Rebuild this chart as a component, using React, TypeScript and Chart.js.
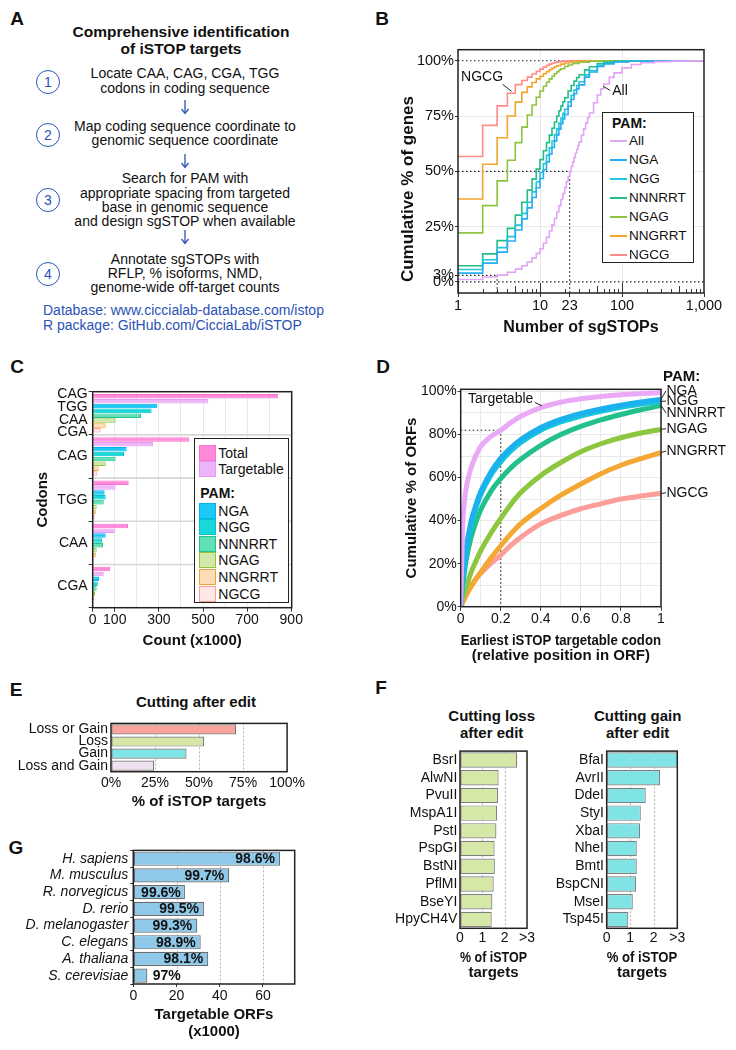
import React, { useEffect, useRef } from 'react';
import { Chart, registerables } from 'chart.js';

Chart.register(...registerables);

const FONT = "'Liberation Sans', Arial, Helvetica, sans-serif";
Chart.defaults.font.family = FONT;
Chart.defaults.font.size = 14;
Chart.defaults.color = '#111';

const INK = '#111';
const FRAME = '#222';
const GRID = '#e9e9e9';
const CLEAR = 'rgba(0,0,0,0)';
const BLUE_TEXT = '#2b52b5';

// ---------------- Panel B data (cumulative % of genes vs number of sgSTOPs) ----------------
const B_X_TICKS = [1, 10, 23, 100, 1000];
const B_X_GRID = [10, 100];
const B_Y_TICKS = [0, 3, 25, 50, 75, 100];
const B_Y_GRID = [25, 50, 75];
const B_MEDIAN = [23, 50];
const B_LOW = [3, 3];
const B_NOTE_NGCG = [4.5, 86.2];
const B_NOTE_ALL = [59, 88.4];
const B_Y_TITLE_AT = 42; // % level at which the y title is centred
const B_SERIES_NAMES = ['All', 'NGA', 'NGG', 'NNNRRT', 'NGAG', 'NNGRRT', 'NGCG'];
const B_COLORS = ['#E2A4F4', '#2AADF0', '#21C6DC', '#1FBF86', '#8DC43F', '#F2A52C', '#FF8B86'];
const B_ALL = [[1, 1.1], [2, 2.2], [3, 3.1], [4, 4.4], [5, 5.8], [6, 7.3], [7, 9], [8, 10.9], [9, 12.9], [10, 15], [11, 17.5], [12, 20.2], [13, 23], [14, 25.8], [15, 28.7], [16, 31.6], [17, 34.5], [18, 37.3], [19, 40], [20, 42.7], [21, 45.3], [22, 47.7], [23, 50], [24, 52.2], [25, 54.3], [26, 56.3], [27, 58.2], [28, 60], [29, 61.7], [30, 63.3], [32, 66.3], [34, 69.2], [36, 71.8], [38, 74.2], [40, 76.4], [45, 81], [50, 84.5], [55, 87.3], [60, 89.5], [70, 92.5], [80, 94.5], [100, 96.8], [130, 98.3], [170, 99.1], [250, 99.6], [400, 99.85], [700, 99.95], [1000, 100]];
const B_NGA = [[1, 4], [2, 8.5], [3, 13.5], [4, 18.5], [5, 23.5], [6, 28.5], [7, 33.5], [8, 38.2], [9, 42.6], [10, 46.8], [11, 50.7], [12, 54.3], [13, 57.7], [14, 60.8], [15, 63.8], [16, 66.5], [17, 69.1], [18, 71.5], [19, 73.7], [20, 75.7], [22, 79.4], [24, 82.5], [26, 85.1], [28, 87.3], [30, 89.1], [35, 92.6], [40, 94.9], [50, 97.4], [60, 98.6], [80, 99.5], [120, 99.9], [200, 100], [1000, 100]];
const B_NGG = [[1, 5.6], [2, 10], [3, 15.5], [4, 20.5], [5, 25.7], [6, 31], [7, 36], [8, 40.7], [9, 45.2], [10, 49.5], [11, 53.5], [12, 57.2], [13, 60.6], [14, 63.7], [15, 66.6], [16, 69.3], [17, 71.8], [18, 74.1], [19, 76.2], [20, 78.1], [22, 81.5], [24, 84.4], [26, 86.8], [28, 88.8], [30, 90.5], [35, 93.6], [40, 95.6], [50, 97.9], [60, 98.9], [80, 99.6], [120, 99.9], [200, 100], [1000, 100]];
const B_NNNRRT = [[1, 7.3], [2, 12.7], [3, 18.7], [4, 24.2], [5, 30.2], [6, 36], [7, 41.5], [8, 46.5], [9, 51], [10, 55.3], [11, 59.3], [12, 63], [13, 66.4], [14, 69.5], [15, 72.3], [16, 75], [17, 77.4], [18, 79.5], [19, 81.5], [20, 83.3], [22, 86.3], [24, 88.8], [26, 90.8], [28, 92.4], [30, 93.7], [35, 95.9], [40, 97.3], [50, 98.7], [60, 99.4], [80, 99.8], [120, 100], [1000, 100]];
const B_NGAG = [[1, 22.2], [2, 34.5], [3, 45.7], [4, 55], [5, 63], [6, 70], [7, 75.5], [8, 80], [9, 83.5], [10, 86.3], [11, 88.5], [12, 90.3], [13, 91.8], [14, 93], [15, 94.1], [16, 95], [17, 95.8], [18, 96.4], [20, 97.4], [22, 98.1], [25, 98.8], [30, 99.4], [40, 99.8], [55, 100], [1000, 100]];
const B_NNGRRT = [[1, 37.5], [2, 53.2], [3, 65.2], [4, 75], [5, 81.3], [6, 85.7], [7, 88.2], [8, 90.2], [9, 91.8], [10, 93], [11, 94.1], [12, 95.1], [13, 96], [14, 96.7], [15, 97.3], [16, 97.8], [18, 98.5], [20, 99], [23, 99.5], [28, 99.8], [35, 100], [1000, 100]];
const B_NGCG = [[1, 56.7], [2, 70.8], [3, 79.6], [4, 85.3], [5, 89.2], [6, 91.1], [7, 92.6], [8, 94], [9, 95.2], [10, 96.2], [11, 97.1], [12, 97.9], [13, 98.5], [14, 98.9], [15, 99.2], [16, 99.5], [18, 99.7], [20, 99.85], [25, 100], [1000, 100]];
const B_POINTS = [B_ALL, B_NGA, B_NGG, B_NNNRRT, B_NGAG, B_NNGRRT, B_NGCG];

// ---------------- Panel C data (codon counts, x1000) ----------------
const C_CATEGORIES: any[] = [['CAG', 'TGG', 'CAA', 'CGA'], 'CAG', 'TGG', 'CAA', 'CGA'];
const C_SERIES_NAMES = ['Total', 'Targetable', 'NGA', 'NGG', 'NNNRRT', 'NGAG', 'NNGRRT', 'NGCG'];
const C_TOTAL = [841, 438, 163, 160, 79];
const C_TARGETABLE = [524, 273, 104, 100, 50];
const C_NGA = [293, 154, 54, 59, 29];
const C_NGG = [267, 142, 59, 42, 23];
const C_NNNRRT = [219, 104, 50, 47, 18];
const C_NGAG = [104, 59, 18, 18, 11];
const C_NNGRRT = [59, 27, 14, 14, 6];
const C_NGCG = [36, 21, 9, 5, 3];
const C_VALUES = [C_TOTAL, C_TARGETABLE, C_NGA, C_NGG, C_NNNRRT, C_NGAG, C_NNGRRT, C_NGCG];
const C_FILLS = ['#FF8ADA', '#EDB5F8', '#1CC8F6', '#19D8DA', '#62E1B6', '#D3E7A9', '#FADDB7', '#FDE7E7'];
const C_BORDERS = ['#FF6FCE', '#E39BF5', '#00B5EE', '#00C6CC', '#22C48B', '#8CC43D', '#F2A234', '#FF9C98'];
const C_X_TICKS = [0, 100, 200, 300, 400, 500, 600, 700, 800, 900];
const C_X_LABELS = [0, 100, 300, 500, 700, 900];

// ---------------- Panel D data (cumulative % of ORFs vs earliest targetable position) ----------------
const D_X = [0, 0.01, 0.02, 0.03, 0.05, 0.075, 0.1, 0.15, 0.2, 0.25, 0.3, 0.4, 0.5, 0.6, 0.7, 0.8, 0.9, 1];
const D_TARGETABLE = [0, 38, 50, 56.5, 64, 70, 74.5, 79, 82, 85.5, 88.5, 92.5, 95, 96.6, 97.7, 98.5, 99, 99.4];
const D_NGA = [0, 13, 22, 29, 39, 47, 53.5, 62.5, 69, 73.8, 77.7, 83.3, 87, 89.8, 91.9, 93.6, 95.1, 96.4];
const D_NGG = [0, 12, 20.5, 27.5, 37.5, 45.5, 52, 61, 67.3, 72.3, 76.3, 82, 85.8, 88.6, 90.8, 92.6, 94.1, 95.4];
const D_NNNRRT = [0, 10, 17, 23, 31.5, 39, 45, 53.5, 59.5, 64.5, 68.5, 75, 80, 83.8, 86.8, 89.3, 91.5, 93.5];
const D_NGAG = [0, 3.8, 7, 10, 15.5, 21, 26, 34, 41, 47.5, 53, 61, 67, 72, 75.7, 78.5, 80.7, 82.4];
const D_NNGRRT = [0, 2, 4, 5.8, 9, 12.7, 16, 22.5, 28.3, 33.8, 38.6, 45.6, 51.8, 57, 61.8, 65.7, 68.8, 71.6];
const D_NGCG = [0, 2.3, 4.3, 6.2, 9.5, 12.8, 15.5, 20, 24, 28.5, 32.3, 38.5, 42.4, 45.5, 47.8, 50, 51.4, 52.6];
const D_SERIES_NAMES = ['Targetable', 'NGA', 'NGG', 'NNNRRT', 'NGAG', 'NNGRRT', 'NGCG'];
const D_VALUES = [D_TARGETABLE, D_NGA, D_NGG, D_NNNRRT, D_NGAG, D_NNGRRT, D_NGCG];
const D_COLORS = ['#EAA9F7', '#1AB1EE', '#18C3DD', '#22C08C', '#8DC63F', '#F3A833', '#FB9E9A'];
const D_LABEL_Y = [100.3, 95.5, 90, 82.7, 72.3, 52.9];
const D_PAM_Y = 107;
const D_GUIDE = [0.2, 82];
const D_NOTE_TARGETABLE = [0.405, 93.3];
const D_X_TICKS = [0, 0.1, 0.2, 0.3, 0.4, 0.5, 0.6, 0.7, 0.8, 0.9, 1];
const D_X_LABELS = [0, 0.2, 0.4, 0.6, 0.8, 1];
const D_Y_TICKS = [0, 10, 20, 30, 40, 50, 60, 70, 80, 90, 100];
const D_Y_LABELS = [0, 20, 40, 60, 80, 100];

// ---------------- Panel E data ----------------
const E_CATEGORIES = ['Loss or Gain', 'Loss', 'Gain', 'Loss and Gain'];
const E_VALUES = [71.1, 52.8, 42.9, 24.5];
const E_COLORS = ['#FAA29C', '#D6E6A7', '#7FE4E6', '#EFE1F0'];
const E_X_TICKS = [0, 25, 50, 75, 100];
const E_DOTTED = [25, 50, 75];

// ---------------- Panel F data ----------------
const F_LOSS_ENZYMES = ['BsrI', 'AlwNI', 'PvuII', 'MspA1I', 'PstI', 'PspGI', 'BstNI', 'PflMI', 'BseYI', 'HpyCH4V'];
const F_LOSS_VALUES = [2.56, 1.73, 1.7, 1.66, 1.63, 1.55, 1.56, 1.51, 1.45, 1.42];
const F_GAIN_ENZYMES = ['BfaI', 'AvrII', 'DdeI', 'StyI', 'XbaI', 'NheI', 'BmtI', 'BspCNI', 'MseI', 'Tsp45I'];
const F_GAIN_VALUES = [3.3, 2.27, 1.66, 1.45, 1.42, 1.28, 1.28, 1.25, 1.11, 0.92];
const F_X_TICKS = [0, 1, 2, 3];
const F_DOTTED = [1, 2];

// ---------------- Panel G data ----------------
const G_SPECIES = ['H. sapiens', 'M. musculus', 'R. norvegicus', 'D. rerio', 'D. melanogaster', 'C. elegans', 'A. thaliana', 'S. cerevisiae'];
const G_ORFS = [67.9, 44.4, 23.9, 32.7, 29.6, 31.2, 34.7, 6.5];
const G_PCT = ['98.6%', '99.7%', '99.6%', '99.5%', '99.3%', '98.9%', '98.1%', '97%'];
const G_X_TICKS = [0, 20, 40, 60];
const G_DOTTED = [20, 40, 60];
const G_LABEL_MIN_X = 24.3;

// ---------------- helpers ----------------
const fixWidth = (w: number) => (s: any) => { s.width = w; };
const fixHeight = (h: number) => (s: any) => { s.height = h; };
const setTicks = (vals: number[]) => (s: any) => { s.ticks = vals.map((v) => ({ value: v })); };
const near = (list: number[], v: number) => list.some((l) => Math.abs(l - v) < 1e-9);

function framePlugin(lw = 1.5) {
  return {
    id: 'frame',
    afterDraw(chart: any) {
      const { ctx, chartArea: a } = chart;
      ctx.save();
      ctx.strokeStyle = FRAME;
      ctx.lineWidth = lw;
      ctx.setLineDash([]);
      ctx.strokeRect(a.left, a.top, a.right - a.left, a.bottom - a.top);
      ctx.restore();
    },
  };
}

function dottedPlugin(values: number[], color = '#b5b5b5') {
  return {
    id: 'dottedV',
    beforeDatasetsDraw(chart: any) {
      const { ctx, chartArea: a, scales } = chart;
      ctx.save();
      ctx.strokeStyle = color;
      ctx.lineWidth = 1;
      ctx.setLineDash([2, 2]);
      values.forEach((v) => {
        const px = Math.round(scales.x.getPixelForValue(v)) + 0.5;
        ctx.beginPath();
        ctx.moveTo(px, a.top);
        ctx.lineTo(px, a.bottom);
        ctx.stroke();
      });
      ctx.restore();
    },
  };
}

const baseOptions = (padding: any) => ({
  responsive: false,
  maintainAspectRatio: false,
  animation: false,
  devicePixelRatio: 1,
  events: [],
  layout: { padding, autoPadding: false },
  plugins: { legend: { display: false }, tooltip: { enabled: false }, title: { display: false } },
});

// ---------------- Panel B config ----------------
const bGuides = {
  id: 'bGuides',
  beforeDatasetsDraw(chart: any) {
    const { ctx, chartArea: a, scales } = chart;
    const { x, y } = scales;
    const seg = (x1: number, y1: number, x2: number, y2: number) => {
      ctx.beginPath();
      ctx.moveTo(x1, y1);
      ctx.lineTo(x2, y2);
      ctx.stroke();
    };
    ctx.save();
    ctx.strokeStyle = '#333';
    ctx.lineWidth = 1;
    [1, 10, 100].forEach((d) => {
      for (let k = 1; k <= 9; k++) {
        const px = Math.round(x.getPixelForValue(k * d)) + 0.5;
        const len = k === 1 ? 10 : k === 5 ? 7 : 4;
        seg(px, a.bottom, px, a.bottom - len);
      }
    });
    ctx.strokeStyle = '#222';
    ctx.lineWidth = 1.2;
    ctx.setLineDash([1.5, 2.5]);
    const y100 = y.getPixelForValue(100);
    const y0 = y.getPixelForValue(0);
    seg(a.left, y100, a.right, y100);
    seg(a.left, y0, a.right, y0);
    const mx = x.getPixelForValue(B_MEDIAN[0]);
    const my = y.getPixelForValue(B_MEDIAN[1]);
    seg(a.left, my, mx, my);
    seg(mx, my, mx, a.bottom);
    const lx = x.getPixelForValue(B_LOW[0]);
    const ly = y.getPixelForValue(B_LOW[1]);
    seg(a.left, ly, lx, ly);
    seg(lx, ly, lx, a.bottom);
    ctx.restore();
  },
};

const bNotes = {
  id: 'bNotes',
  afterDraw(chart: any) {
    const { ctx, scales } = chart;
    const { x, y } = scales;
    ctx.save();
    ctx.strokeStyle = '#222';
    ctx.lineWidth = 1;
    ctx.fillStyle = INK;
    ctx.font = `14px ${FONT}`;
    ctx.textBaseline = 'middle';
    let ax = x.getPixelForValue(B_NOTE_NGCG[0]);
    let ay = y.getPixelForValue(B_NOTE_NGCG[1]);
    ctx.beginPath();
    ctx.moveTo(ax, ay);
    ctx.lineTo(ax - 9, ay - 7);
    ctx.stroke();
    ctx.textAlign = 'right';
    ctx.fillText('NGCG', ax - 8.5, ay - 14);
    ax = x.getPixelForValue(B_NOTE_ALL[0]);
    ay = y.getPixelForValue(B_NOTE_ALL[1]);
    ctx.beginPath();
    ctx.moveTo(ax, ay);
    ctx.lineTo(ax + 7, ay + 4);
    ctx.stroke();
    ctx.textAlign = 'left';
    ctx.fillText('All', ax + 9, ay + 5);
    // y axis title, rotated
    ctx.translate(y.left + 18, y.getPixelForValue(B_Y_TITLE_AT));
    ctx.rotate(-Math.PI / 2);
    ctx.textAlign = 'center';
    ctx.font = `bold 17px ${FONT}`;
    ctx.fillText('Cumulative % of genes', 0, 0);
    ctx.restore();
  },
};

function makeB() {
  return {
    type: 'line',
    data: {
      datasets: B_POINTS.map((pts, i) => ({
        label: B_SERIES_NAMES[i],
        data: pts.map(([vx, vy]) => ({ x: vx, y: vy })),
        borderColor: B_COLORS[i],
        borderWidth: 1.6,
        pointRadius: 0,
        stepped: 'before',
        fill: false,
      })),
    },
    options: {
      ...baseOptions({ top: 8, right: 32, left: 0, bottom: 0 }),
      scales: {
        x: {
          type: 'logarithmic',
          min: 1,
          max: 1000,
          afterBuildTicks: setTicks(B_X_TICKS),
          afterFit: fixHeight(47),
          ticks: { callback: (v: number) => (v === 1000 ? '1,000' : String(v)), maxRotation: 0, minRotation: 0, autoSkip: false, padding: 0, color: INK, font: { size: 14.5 } },
          grid: { color: (c: any) => (B_X_GRID.includes(c.tick?.value) ? GRID : CLEAR), tickColor: '#333', tickLength: 4 },
          border: { display: false },
          title: { display: true, text: 'Number of sgSTOPs', color: INK, font: { size: 16, weight: 'bold' }, padding: { top: 0, bottom: 3 } },
        },
        y: {
          type: 'linear',
          min: -5,
          max: 105,
          afterBuildTicks: setTicks(B_Y_TICKS),
          afterFit: fixWidth(68),
          ticks: { callback: (v: number) => `${v}%`, autoSkip: false, padding: 1, color: INK, font: { size: 14.5 } },
          grid: { color: (c: any) => (B_Y_GRID.includes(c.tick?.value) ? GRID : CLEAR), tickColor: '#333', tickLength: 3 },
          border: { display: false },
        },
      },
    },
    plugins: [bGuides, framePlugin(), bNotes],
  };
}

// ---------------- Panel C config ----------------
const cSeparators = {
  id: 'cSep',
  beforeDatasetsDraw(chart: any) {
    const { ctx, chartArea: a, scales } = chart;
    const y = scales.y;
    ctx.save();
    ctx.strokeStyle = '#d6d6d6';
    ctx.lineWidth = 1.6;
    for (let i = 0; i < C_CATEGORIES.length - 1; i++) {
      const py = (y.getPixelForValue(i) + y.getPixelForValue(i + 1)) / 2;
      ctx.beginPath();
      ctx.moveTo(a.left, py);
      ctx.lineTo(a.right, py);
      ctx.stroke();
    }
    ctx.restore();
  },
};

function makeC() {
  return {
    type: 'bar',
    data: {
      labels: C_CATEGORIES,
      datasets: C_VALUES.map((vals, i) => ({
        label: C_SERIES_NAMES[i],
        data: vals,
        backgroundColor: C_FILLS[i],
        borderColor: C_BORDERS[i],
        borderWidth: 1,
        borderSkipped: false,
        categoryPercentage: 0.9,
        barPercentage: 0.93,
      })),
    },
    options: {
      ...baseOptions({ top: 11.7, right: 13.3, left: 0, bottom: 0 }),
      indexAxis: 'y',
      scales: {
        x: {
          type: 'linear',
          min: 0,
          max: 902,
          afterBuildTicks: setTicks(C_X_TICKS),
          afterFit: fixHeight(44.3),
          ticks: { callback: (v: number) => (C_X_LABELS.includes(v) ? String(v) : ''), maxRotation: 0, autoSkip: false, padding: 0, color: INK },
          grid: { color: GRID, tickColor: (c: any) => (C_X_LABELS.includes(c.tick?.value) ? '#333' : CLEAR), tickLength: 4 },
          border: { display: false },
          title: { display: true, text: 'Count (x1000)', color: INK, font: { size: 15, weight: 'bold' }, padding: { top: 0, bottom: 2.3 } },
        },
        y: {
          type: 'category',
          afterFit: fixWidth(72.7),
          ticks: { color: INK, padding: 1, autoSkip: false, font: { size: 14, lineHeight: 0.92 } },
          grid: { drawOnChartArea: false, tickColor: '#333', tickLength: 4 },
          border: { display: false },
          title: { display: true, text: 'Codons', color: INK, font: { size: 15, weight: 'bold' }, padding: { top: 14, bottom: 0 } },
        },
      },
    },
    plugins: [cSeparators, framePlugin()],
  };
}

// ---------------- Panel D config ----------------
const dGuides = {
  id: 'dGuides',
  beforeDatasetsDraw(chart: any) {
    const { ctx, chartArea: a, scales } = chart;
    const gx = scales.x.getPixelForValue(D_GUIDE[0]);
    const gy = scales.y.getPixelForValue(D_GUIDE[1]);
    ctx.save();
    ctx.strokeStyle = '#222';
    ctx.lineWidth = 1.1;
    ctx.setLineDash([1.5, 2.5]);
    ctx.beginPath();
    ctx.moveTo(a.left, gy);
    ctx.lineTo(gx, gy);
    ctx.lineTo(gx, a.bottom);
    ctx.stroke();
    ctx.restore();
  },
};

const dNotes = {
  id: 'dNotes',
  afterDraw(chart: any) {
    const { ctx, chartArea: a, scales } = chart;
    const { x, y } = scales;
    ctx.save();
    ctx.fillStyle = INK;
    ctx.strokeStyle = '#222';
    ctx.lineWidth = 1;
    ctx.textBaseline = 'middle';
    const ax = x.getPixelForValue(D_NOTE_TARGETABLE[0]);
    const ay = y.getPixelForValue(D_NOTE_TARGETABLE[1]);
    ctx.beginPath();
    ctx.moveTo(ax, ay);
    ctx.lineTo(ax - 7, ay - 3.5);
    ctx.stroke();
    ctx.font = `14px ${FONT}`;
    ctx.textAlign = 'right';
    ctx.fillText('Targetable', ax - 8.5, ay - 7);
    ctx.textAlign = 'left';
    ctx.font = `bold 15px ${FONT}`;
    ctx.fillText('PAM:', a.right + 2, y.getPixelForValue(D_PAM_Y));
    ctx.font = `14px ${FONT}`;
    D_VALUES.slice(1).forEach((vals, i) => {
      const endY = y.getPixelForValue(vals[vals.length - 1]);
      const ly = y.getPixelForValue(D_LABEL_Y[i]);
      ctx.beginPath();
      ctx.moveTo(a.right, endY);
      ctx.lineTo(a.right + 5, ly);
      ctx.stroke();
      ctx.fillText(D_SERIES_NAMES[i + 1], a.right + 5.5, ly);
    });
    ctx.restore();
  },
};

function makeD() {
  return {
    type: 'line',
    data: {
      datasets: D_VALUES.map((vals, i) => ({
        label: D_SERIES_NAMES[i],
        data: vals.map((v, j) => ({ x: D_X[j], y: v })),
        borderColor: D_COLORS[i],
        borderWidth: 5,
        pointRadius: 0,
        cubicInterpolationMode: 'monotone',
        fill: false,
      })),
    },
    options: {
      ...baseOptions({ top: 29.3, right: 75, left: 0, bottom: 0 }),
      scales: {
        x: {
          type: 'linear',
          min: 0,
          max: 1,
          afterBuildTicks: setTicks(D_X_TICKS),
          afterFit: fixHeight(58.3),
          ticks: { callback: (v: number) => (near(D_X_LABELS, v) ? String(Math.round(v * 10) / 10) : ''), maxRotation: 0, autoSkip: false, padding: 0, color: INK },
          grid: { color: GRID, tickColor: (c: any) => (near(D_X_LABELS, c.tick?.value) ? '#333' : CLEAR), tickLength: 4 },
          border: { display: false },
          title: { display: true, text: ['Earliest iSTOP targetable codon', '(relative position in ORF)'], color: INK, font: { size: 15, weight: 'bold', lineHeight: 1.0 }, padding: { top: 0, bottom: 1.5 } },
        },
        y: {
          type: 'linear',
          min: 0,
          max: 101,
          afterBuildTicks: setTicks(D_Y_TICKS),
          afterFit: fixWidth(65.7),
          ticks: { callback: (v: number) => (D_Y_LABELS.includes(v) ? `${v}%` : ''), autoSkip: false, padding: 1, color: INK },
          grid: { color: GRID, tickColor: (c: any) => (D_Y_LABELS.includes(c.tick?.value) ? '#333' : CLEAR), tickLength: 3 },
          border: { display: false },
          title: { display: true, text: 'Cumulative % of ORFs', color: INK, font: { size: 15, weight: 'bold' }, padding: { top: 7.7, bottom: 0 } },
        },
      },
    },
    plugins: [dGuides, framePlugin(), dNotes],
  };
}

// ---------------- Panel E config ----------------
function makeE() {
  return {
    type: 'bar',
    data: {
      labels: E_CATEGORIES,
      datasets: [{ label: 'Cutting after edit', data: E_VALUES, backgroundColor: E_COLORS, borderColor: '#777', borderWidth: 1.2, borderSkipped: false, categoryPercentage: 1, barPercentage: 0.84 }],
    },
    options: {
      ...baseOptions({ top: 4.7, right: 11.5, left: 0, bottom: 0 }),
      indexAxis: 'y',
      scales: {
        x: {
          type: 'linear',
          min: 0,
          max: 100,
          afterBuildTicks: setTicks(E_X_TICKS),
          afterFit: fixHeight(40.3),
          ticks: { callback: (v: number) => `${v}%`, maxRotation: 0, autoSkip: false, padding: 0, color: INK },
          grid: { drawOnChartArea: false, tickLength: 3, tickColor: CLEAR },
          border: { display: false },
          title: { display: true, text: '% of iSTOP targets', color: INK, font: { size: 15, weight: 'bold' }, padding: { top: 0, bottom: 1.3 } },
        },
        y: {
          type: 'category',
          afterFit: fixWidth(111),
          ticks: { color: INK, padding: 3, autoSkip: false },
          grid: { drawOnChartArea: false, drawTicks: false },
          border: { display: false },
        },
      },
    },
    plugins: [dottedPlugin(E_DOTTED), framePlugin()],
  };
}

// ---------------- Panel F config ----------------
function makeF(labels: string[], values: number[], color: string, yWidth: number, right: number) {
  return {
    type: 'bar',
    data: {
      labels,
      datasets: [{ label: '% of iSTOP targets', data: values, backgroundColor: color, borderColor: '#808080', borderWidth: 1.2, borderSkipped: false, categoryPercentage: 1, barPercentage: 0.87 }],
    },
    options: {
      ...baseOptions({ top: 4, right, left: 0, bottom: 0 }),
      indexAxis: 'y',
      scales: {
        x: {
          type: 'linear',
          min: 0,
          max: 3,
          afterBuildTicks: setTicks(F_X_TICKS),
          afterFit: fixHeight(56.7),
          ticks: { callback: (v: number) => (v === 3 ? '>3' : String(v)), maxRotation: 0, autoSkip: false, padding: 0, color: INK },
          grid: { drawOnChartArea: false, tickLength: 1, tickColor: CLEAR },
          border: { display: false },
          title: { display: true, text: ['% of iSTOP', 'targets'], color: INK, font: { size: 15, weight: 'bold', lineHeight: 1.04 }, padding: { top: 0, bottom: 3.9 } },
        },
        y: {
          type: 'category',
          afterFit: fixWidth(yWidth),
          ticks: { color: INK, padding: 2.7, autoSkip: false },
          grid: { drawOnChartArea: false, drawTicks: false },
          border: { display: false },
        },
      },
    },
    plugins: [dottedPlugin(F_DOTTED), framePlugin()],
  };
}

// ---------------- Panel G config ----------------
const gLabels = {
  id: 'gLabels',
  afterDatasetsDraw(chart: any) {
    const { ctx, scales } = chart;
    const { x, y } = scales;
    ctx.save();
    ctx.fillStyle = INK;
    ctx.font = `bold 14px ${FONT}`;
    ctx.textAlign = 'right';
    ctx.textBaseline = 'middle';
    G_ORFS.forEach((v, i) => {
      const px = Math.max(x.getPixelForValue(v), x.getPixelForValue(G_LABEL_MIN_X)) - 5;
      ctx.fillText(G_PCT[i], px, y.getPixelForValue(i) + 0.5);
    });
    ctx.restore();
  },
};

function makeG() {
  return {
    type: 'bar',
    data: {
      labels: G_SPECIES,
      datasets: [{ label: 'Targetable ORFs', data: G_ORFS, backgroundColor: '#8FC9E9', borderColor: '#6b6b6b', borderWidth: 1.2, borderSkipped: false, categoryPercentage: 1, barPercentage: 0.85 }],
    },
    options: {
      ...baseOptions({ top: 9.3, right: 10.3, left: 0, bottom: 0 }),
      indexAxis: 'y',
      scales: {
        x: {
          type: 'linear',
          min: 0,
          max: 74.7,
          afterBuildTicks: setTicks(G_X_TICKS),
          afterFit: fixHeight(66),
          ticks: { maxRotation: 0, autoSkip: false, padding: 1, color: INK },
          grid: { drawOnChartArea: false, tickLength: 3, tickColor: '#333' },
          border: { display: false },
          title: { display: true, text: ['Targetable ORFs', '(x1000)'], color: INK, font: { size: 15, weight: 'bold', lineHeight: 1.11 }, padding: { top: 0, bottom: 10 } },
        },
        y: {
          type: 'category',
          afterFit: fixWidth(133.3),
          ticks: { color: INK, padding: 2, autoSkip: false, font: { style: 'italic', size: 14 } },
          grid: { drawOnChartArea: false, tickLength: 3, tickColor: '#333' },
          border: { display: false },
        },
      },
    },
    plugins: [dottedPlugin(G_DOTTED), framePlugin(), gLabels],
  };
}

// ---------------- React components ----------------
function ChartCanvas({ x, y, w, h, make }: { x: number; y: number; w: number; h: number; make: () => any }) {
  const ref = useRef<HTMLCanvasElement | null>(null);
  useEffect(() => {
    if (!ref.current) return;
    const chart = new Chart(ref.current, make());
    return () => chart.destroy();
  }, []);
  return <canvas ref={ref} width={w} height={h} style={{ position: 'absolute', left: x, top: y, width: w, height: h }} />;
}

function Txt({ x, y, children, size = 14, bold = false, italic = false, color = INK, align = 'center' }: any) {
  const tx = align === 'center' ? '-50%' : align === 'right' ? '-100%' : '0';
  return (
    <div style={{ position: 'absolute', left: x, top: y, transform: `translate(${tx}, -50%)`, fontSize: size, fontWeight: bold ? 700 : 400, fontStyle: italic ? 'italic' : 'normal', color, whiteSpace: 'nowrap', lineHeight: 1.15 }}>
      {children}
    </div>
  );
}

function StepCircle({ cx, cy, n }: { cx: number; cy: number; n: string }) {
  return (
    <div style={{ position: 'absolute', left: cx - 12, top: cy - 12, width: 24, height: 24, borderRadius: '50%', border: `1.6px solid ${BLUE_TEXT}`, boxSizing: 'border-box', display: 'flex', alignItems: 'center', justifyContent: 'center', color: BLUE_TEXT, fontSize: 14, lineHeight: 1 }}>
      {n}
    </div>
  );
}

function DownArrow({ cx, cy }: { cx: number; cy: number }) {
  return (
    <svg width={12} height={16} style={{ position: 'absolute', left: cx - 6, top: cy - 8 }}>
      <line x1={6} y1={1} x2={6} y2={14} stroke={BLUE_TEXT} strokeWidth={1.3} />
      <polyline points="2.5,10 6,14.5 9.5,10" fill="none" stroke={BLUE_TEXT} strokeWidth={1.3} />
    </svg>
  );
}

const A_LINES: [string, number][] = [
  ['Locate CAA, CAG, CGA, TGG', 73],
  ['codons in coding sequence', 88],
  ['Map coding sequence coordinate to', 126],
  ['genomic sequence coordinate', 140],
  ['Search for PAM with', 178],
  ['appropriate spacing from targeted', 192.7],
  ['base in genomic sequence', 206.7],
  ['and design sgSTOP when available', 220.7],
  ['Annotate sgSTOPs with', 258.7],
  ['RFLP, % isoforms, NMD,', 273],
  ['genome-wide off-target counts', 287.3],
];

function LegendLine({ x, y, color, label }: any) {
  return (
    <>
      <div style={{ position: 'absolute', left: x, top: y - 1.25, width: 17, height: 2.5, background: color }} />
      <Txt x={x + 19} y={y} size={13.5} align="left">{label}</Txt>
    </>
  );
}

function LegendSwatch({ x, y, fill, border, label }: any) {
  return (
    <>
      <div style={{ position: 'absolute', left: x, top: y - 8, width: 16.5, height: 16, background: fill, border: `1.5px solid ${border}`, boxSizing: 'border-box' }} />
      <Txt x={x + 19} y={y} size={14} align="left">{label}</Txt>
    </>
  );
}

export default function App() {
  const bLegendY = [28, 47, 66, 85, 104, 123, 142];
  const cLegendPamY = [72.3, 88.3, 105, 121.3, 138, 155];
  return (
    <div style={{ position: 'absolute', left: 0, top: 0, width: 736, height: 1050, overflow: 'hidden', background: '#fff', fontFamily: FONT, color: INK }}>
      {/* Panel letters */}
      <Txt x={17} y={19} size={19} bold>A</Txt>
      <Txt x={382} y={19} size={19} bold>B</Txt>
      <Txt x={17} y={367} size={19} bold>C</Txt>
      <Txt x={383} y={367} size={19} bold>D</Txt>
      <Txt x={16} y={690} size={19} bold>E</Txt>
      <Txt x={381} y={688} size={19} bold>F</Txt>
      <Txt x={16} y={848} size={19} bold>G</Txt>

      {/* Panel A */}
      <Txt x={181} y={32} size={15.5} bold>Comprehensive identification</Txt>
      <Txt x={181} y={49} size={15.5} bold>of iSTOP targets</Txt>
      {A_LINES.map(([t, yy]) => (
        <Txt key={t} x={185} y={yy} size={14}>{t}</Txt>
      ))}
      <StepCircle cx={48} cy={82} n="1" />
      <StepCircle cx={48} cy={135} n="2" />
      <StepCircle cx={48} cy={200} n="3" />
      <StepCircle cx={48} cy={274} n="4" />
      <DownArrow cx={185} cy={107} />
      <DownArrow cx={185} cy={161} />
      <DownArrow cx={185} cy={237} />
      <Txt x={43} y={310} size={14} color={BLUE_TEXT} align="left">Database: www.ciccialab-database.com/istop</Txt>
      <Txt x={43} y={325} size={14} color={BLUE_TEXT} align="left">R package: GitHub.com/CicciaLab/iSTOP</Txt>

      {/* Panel B */}
      <ChartCanvas x={390} y={40} w={346} h={300} make={makeB} />
      <div style={{ position: 'absolute', left: 602, top: 112, width: 92, height: 151, border: `1.5px solid ${FRAME}`, background: '#fff', boxSizing: 'border-box' }}>
        <Txt x={9} y={10} size={14} bold align="left">PAM:</Txt>
        {B_SERIES_NAMES.map((n, i) => (
          <LegendLine key={n} x={7} y={bLegendY[i]} color={B_COLORS[i]} label={n} />
        ))}
      </div>

      {/* Panel C */}
      <ChartCanvas x={20} y={380} w={285} h={272} make={makeC} />
      <div style={{ position: 'absolute', left: 194.3, top: 437.7, width: 94.5, height: 165.5, border: `1.5px solid ${FRAME}`, background: '#fff', boxSizing: 'border-box' }}>
        <LegendSwatch x={4} y={14} fill={C_FILLS[0]} border={C_BORDERS[0]} label="Total" />
        <LegendSwatch x={4} y={30.5} fill={C_FILLS[1]} border={C_BORDERS[1]} label="Targetable" />
        <Txt x={5} y={54} size={14} bold align="left">PAM:</Txt>
        {C_SERIES_NAMES.slice(2).map((n, i) => (
          <LegendSwatch key={n} x={4} y={cLegendPamY[i]} fill={C_FILLS[i + 2]} border={C_BORDERS[i + 2]} label={n} />
        ))}
      </div>

      {/* Panel D */}
      <ChartCanvas x={395} y={360} w={341} h={305} make={makeD} />

      {/* Panel E */}
      <Txt x={196} y={701.7} size={15} bold>Cutting after edit</Txt>
      <ChartCanvas x={0} y={712} w={305} h={100} make={makeE} />

      {/* Panel F */}
      <Txt x={491.7} y={716} size={15} bold>Cutting loss</Txt>
      <Txt x={491.7} y={732.5} size={15} bold>after edit</Txt>
      <Txt x={637.7} y={716} size={15} bold>Cutting gain</Txt>
      <Txt x={637.7} y={732.5} size={15} bold>after edit</Txt>
      <ChartCanvas x={380} y={740} w={155} h={245} make={() => makeF(F_LOSS_ENZYMES, F_LOSS_VALUES, '#D6E8A8', 80, 2.7)} />
      <ChartCanvas x={535} y={740} w={201} h={245} make={() => makeF(F_GAIN_ENZYMES, F_GAIN_VALUES, '#80E4E7', 71.7, 58.7)} />

      {/* Panel G */}
      <ChartCanvas x={0} y={840} w={305} h={210} make={makeG} />
    </div>
  );
}
